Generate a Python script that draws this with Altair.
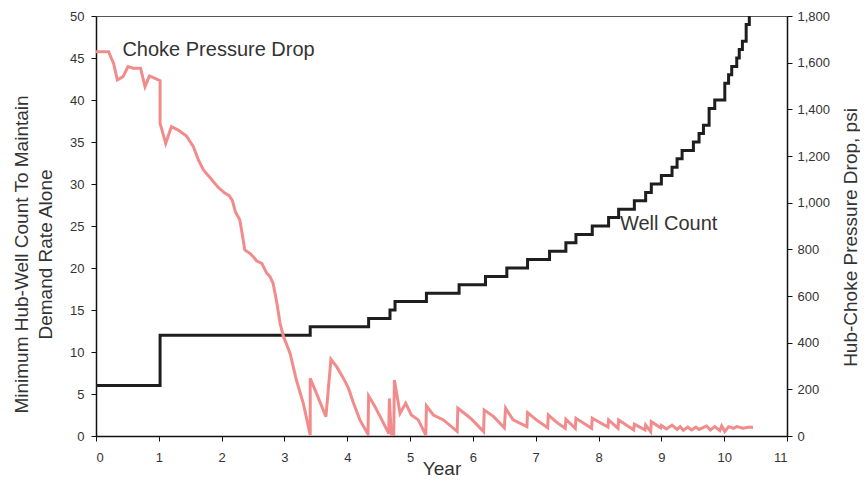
import altair as alt
import pandas as pd

# Well count (step-after)
well_years = [0, 1.02, 3.41, 4.34, 4.68, 4.76, 5.26, 5.78, 6.2, 6.54, 6.87, 7.22, 7.48, 7.64,
              7.9, 8.16, 8.32, 8.57, 8.75, 8.84, 9.0, 9.17, 9.25, 9.33, 9.51, 9.6, 9.67, 9.76,
              9.85, 10.01, 10.07, 10.12, 10.2, 10.24, 10.29, 10.35, 10.4]
well_counts = [6, 12, 13, 14, 15, 16, 17, 18, 19, 20, 21, 22, 23, 24,
               25, 26, 27, 28, 29, 30, 31, 32, 33, 34, 35, 36, 37, 39,
               40, 42, 43, 44, 45, 46, 47, 49, 50]

# Choke pressure drop, psi
psi_years = [0.0, 0.2, 0.28, 0.34, 0.43, 0.51, 0.59, 0.71, 0.78, 0.85, 0.94, 1.02, 1.02,
             1.11, 1.2, 1.31, 1.44, 1.55, 1.63, 1.71, 1.82, 1.94, 2.05, 2.12, 2.17, 2.22,
             2.29, 2.37, 2.45, 2.5, 2.56, 2.64, 2.72, 2.77, 2.82, 2.88, 2.93, 2.98, 3.09,
             3.19, 3.3, 3.41, 3.41, 3.51, 3.66, 3.74, 3.83, 3.94, 4.02, 4.1, 4.2, 4.33,
             4.34, 4.44, 4.55, 4.66, 4.67, 4.7, 4.74, 4.75, 4.84, 4.93, 5.02, 5.13, 5.25,
             5.26, 5.37, 5.53, 5.75, 5.76, 5.9, 5.99, 6.17, 6.18, 6.33, 6.5, 6.52, 6.64,
             6.86, 6.87, 7.01, 7.19, 7.2, 7.35, 7.47, 7.48, 7.63, 7.64, 7.89, 7.9, 8.15,
             8.16, 8.31, 8.32, 8.56, 8.57, 8.74, 8.75, 8.83, 8.84, 8.99, 9.0, 9.08, 9.17,
             9.25, 9.3, 9.35, 9.42, 9.48, 9.55, 9.6, 9.72, 9.78, 9.85, 9.93, 9.96, 10.01,
             10.07, 10.15, 10.2, 10.3, 10.4, 10.46]
psi_values = [1647, 1647, 1597, 1526, 1540, 1583, 1576, 1576, 1497, 1543, 1533, 1523, 1340,
              1254, 1326, 1311, 1286, 1240, 1183, 1140, 1106, 1067, 1041, 1030, 1010, 960,
              926, 797, 783, 769, 750, 740, 697, 683, 654, 569, 483, 430, 354,
              240, 140, 4, 247, 183, 83, 329, 297, 247, 204, 140, 69, 8,
              171, 126, 69, 10, 161, 10, 5, 240, 97, 140, 90, 69, 4,
              129, 90, 69, 20, 119, 90, 69, 19, 111, 83, 35, 119, 69,
              40, 100, 69, 35, 90, 55, 33, 72, 33, 76, 33, 76, 38,
              69, 33, 69, 26, 51, 26, 47, 19, 61, 35, 45, 30, 47,
              28, 40, 25, 38, 26, 38, 28, 43, 26, 40, 23, 43, 19,
              40, 33, 40, 33, 38, 36]

labels = ["Choke Pressure Drop", "Well Count"]
label_x = [0.42, 8.34]
label_y = [46.0, 25.2]

well_df = pd.DataFrame({"year": well_years, "count": well_counts})
psi_df = pd.DataFrame({"year": psi_years, "psi": psi_values, "i": list(range(len(psi_years)))})
lab_df = pd.DataFrame({"label": labels, "x": label_x, "y": label_y})

FONT = "Liberation Sans"
TXT = "#333333"

x_enc = alt.X("year:Q", scale=alt.Scale(domain=[0, 11], nice=False),
              axis=alt.Axis(title="Year", values=list(range(12)), format="d",
                            labelPadding=10, titleBaseline="alphabetic", titleY=38,
                            grid=False))

left_scale = alt.Scale(domain=[0, 50], nice=False)

well = alt.Chart(well_df).mark_line(interpolate="step-after", color="#1e1e1e",
                                    strokeWidth=3, clip=True).encode(
    x=x_enc,
    y=alt.Y("count:Q", scale=left_scale,
            axis=alt.Axis(orient="left", values=list(range(0, 51, 5)), grid=False,
                          title=["Minimum Hub-Well Count To Maintain", "Demand Rate Alone"],
                          titleAngle=-90, titleBaseline="middle", titleAlign="center",
                          titleX=-75, titleY=238, titleLineHeight=24, labelPadding=7)),
)

texts = alt.Chart(lab_df).mark_text(align="left", baseline="middle", font=FONT,
                                    fontSize=20, color=TXT).encode(
    x=alt.X("x:Q"),
    y=alt.Y("y:Q", scale=left_scale),
    text="label:N",
)

pink = alt.Chart(psi_df).mark_line(color="#F28C8C", strokeWidth=3, clip=True).encode(
    x=alt.X("year:Q"),
    y=alt.Y("psi:Q", scale=alt.Scale(domain=[0, 1800], nice=False),
            axis=alt.Axis(orient="right", values=list(range(0, 1801, 200)), format=",d",
                          grid=False, title="Hub-Choke Pressure Drop, psi",
                          titleAngle=-90, titleBaseline="middle", titleAlign="center",
                          titleX=63, titleY=221, labelPadding=5)),
    order=alt.Order("i:Q"),
)

chart = alt.layer(alt.layer(well, texts), pink).resolve_scale(y="independent").properties(
    width=691, height=420,
    autosize=alt.AutoSizeParams(type="none"),
    padding={"left": 88, "top": 8, "right": 73, "bottom": 43},
    background="white",
).configure_view(
    stroke="#555555", strokeWidth=1,
).configure_axis(
    domainColor="#111111", domainWidth=1.5, tickColor="#111111", tickSize=5, tickWidth=1,
    labelFont=FONT, labelFontSize=13, labelColor=TXT,
    titleFont=FONT, titleFontSize=19, titleColor=TXT, titleFontWeight="normal",
)

chart.save("out.html", embed_options={"renderer": "svg", "actions": False})
